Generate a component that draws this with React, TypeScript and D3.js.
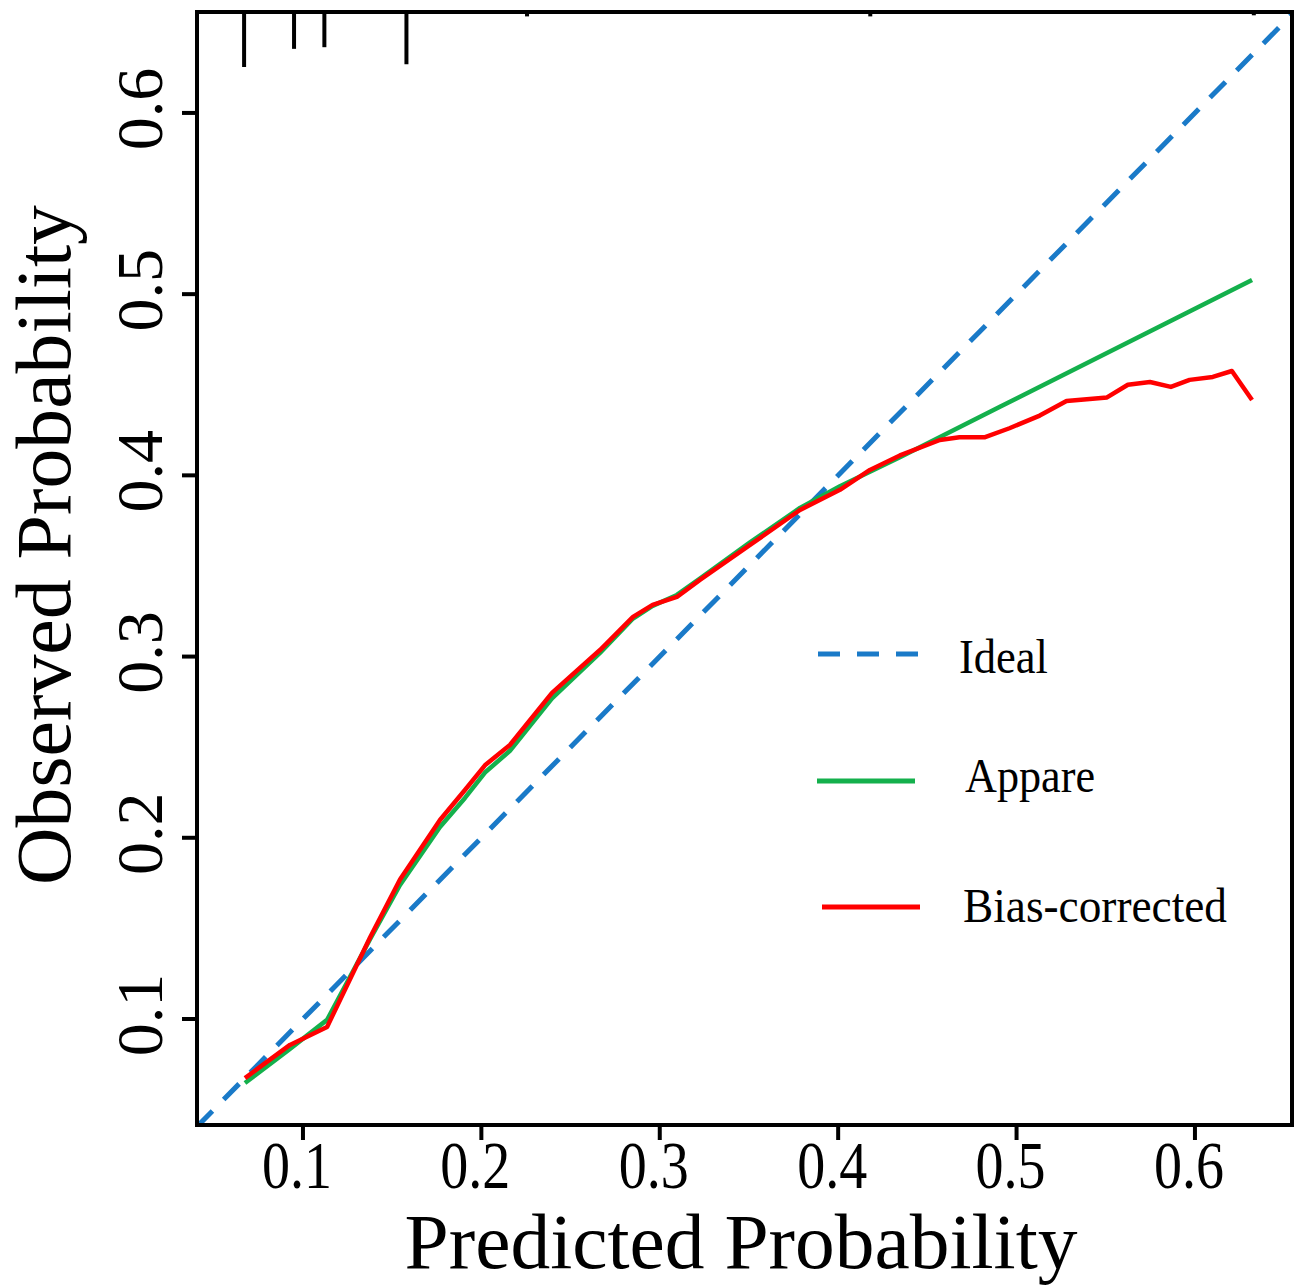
import React, { useEffect, useRef } from "react";
import * as d3 from "d3";

const xTicks = [0.1, 0.2, 0.3, 0.4, 0.5, 0.6];
const yTicks = [0.1, 0.2, 0.3, 0.4, 0.5, 0.6];

const apparentX = [0.0675, 0.0927, 0.1135, 0.1376, 0.1544, 0.1768, 0.1908, 0.202, 0.216, 0.2396, 0.2665, 0.285, 0.296, 0.3096, 0.3225, 0.3506, 0.3786, 0.401, 0.4346, 0.4907, 0.632];
const apparentY = [0.0647, 0.0835, 0.0995, 0.144, 0.174, 0.206, 0.222, 0.236, 0.248, 0.277, 0.302, 0.321, 0.328, 0.334, 0.343, 0.363, 0.382, 0.394, 0.41, 0.4378, 0.5078];

const biasX = [0.0675, 0.0927, 0.1135, 0.1376, 0.1544, 0.1768, 0.1908, 0.202, 0.216, 0.2396, 0.2665, 0.285, 0.296, 0.3096, 0.3225, 0.3506, 0.3786, 0.401, 0.4178, 0.4346, 0.457, 0.468, 0.482, 0.496, 0.513, 0.528, 0.5507, 0.5624, 0.5748, 0.5865, 0.597, 0.61, 0.6207, 0.632];
const biasY = [0.0674, 0.0857, 0.0956, 0.145, 0.177, 0.2098, 0.2264, 0.24, 0.2512, 0.28, 0.3036, 0.3219, 0.3285, 0.3329, 0.3423, 0.3616, 0.3809, 0.392, 0.403, 0.411, 0.4195, 0.421, 0.421, 0.426, 0.433, 0.441, 0.443, 0.45, 0.4515, 0.4488, 0.4527, 0.4543, 0.4576, 0.4416];

const rugValues = [0.067, 0.095, 0.112, 0.158, 0.2256, 0.418, 0.633];
const rugFreq = [1.0, 0.67, 0.64, 0.95, 0.08, 0.08, 0.06];

const legendLabels = ["Ideal", "Appare", "Bias-corrected"];

export default function App() {
  const ref = useRef<SVGSVGElement>(null);
  useEffect(() => {
    const svg = d3.select(ref.current);
    svg.selectAll("*").remove();
    const L = 197, R = 1292, T = 12, B = 1125;
    const x = d3.scaleLinear().domain([0.0406, 0.6544]).range([L, R]);
    const y = d3.scaleLinear().domain([0.0415, 0.6557]).range([B, T]);
    const font = "'Liberation Serif', 'Times New Roman', serif";

    svg.append("defs").append("clipPath").attr("id", "clip")
      .append("rect").attr("x", L).attr("y", T).attr("width", R - L).attr("height", B - T);

    const g = svg.append("g").attr("clip-path", "url(#clip)");
    const line = d3.line<[number, number]>().x(d => x(d[0])).y(d => y(d[1]));

    // ideal
    g.append("path")
      .attr("d", line([[0.0406, 0.0406], [0.66, 0.66]]))
      .attr("fill", "none").attr("stroke", "#1a7ac8").attr("stroke-width", 5)
      .attr("stroke-dasharray", "22,16");

    const app: [number, number][] = apparentX.map((v, i) => [v, apparentY[i]]);
    const bias: [number, number][] = biasX.map((v, i) => [v, biasY[i]]);
    g.append("path").attr("d", line(app)).attr("fill", "none").attr("stroke", "#14b04c")
      .attr("stroke-width", 4.5).attr("stroke-linejoin", "round");
    g.append("path").attr("d", line(bias)).attr("fill", "none").attr("stroke", "#ff0000")
      .attr("stroke-width", 4.5).attr("stroke-linejoin", "round");

    // rug
    const rugH = d3.scaleLinear().domain([0, 1]).range([0, 55]);
    rugValues.forEach((v, i) => {
      svg.append("line").attr("x1", x(v)).attr("x2", x(v)).attr("y1", T)
        .attr("y2", T + rugH(rugFreq[i])).attr("stroke", "#000").attr("stroke-width", 4);
    });

    // frame
    svg.append("rect").attr("x", L).attr("y", T).attr("width", R - L).attr("height", B - T)
      .attr("fill", "none").attr("stroke", "#000").attr("stroke-width", 4);

    // x ticks
    xTicks.forEach(t => {
      svg.append("line").attr("x1", x(t)).attr("x2", x(t)).attr("y1", B).attr("y2", B + 15)
        .attr("stroke", "#000").attr("stroke-width", 4);
      svg.append("text").attr("x", x(t) - 6).attr("y", 1188).attr("text-anchor", "middle")
        .attr("font-family", font).attr("font-size", 67)
        .attr("textLength", 70).attr("lengthAdjust", "spacingAndGlyphs")
        .text(d3.format(".1f")(t));
    });
    // y ticks
    yTicks.forEach(t => {
      svg.append("line").attr("x1", L - 15).attr("x2", L).attr("y1", y(t)).attr("y2", y(t))
        .attr("stroke", "#000").attr("stroke-width", 4);
      svg.append("text").attr("transform", `translate(162,${y(t) - 4}) rotate(-90)`)
        .attr("text-anchor", "middle").attr("font-family", font).attr("font-size", 66)
        .text(d3.format(".1f")(t));
    });

    // titles
    svg.append("text").attr("x", 741).attr("y", 1268).attr("text-anchor", "middle")
      .attr("font-family", font).attr("font-size", 78)
      .attr("textLength", 673).attr("lengthAdjust", "spacingAndGlyphs")
      .text("Predicted Probability");
    svg.append("text").attr("transform", `translate(70,545) rotate(-90)`)
      .attr("text-anchor", "middle").attr("font-family", font).attr("font-size", 79)
      .attr("textLength", 680).attr("lengthAdjust", "spacingAndGlyphs")
      .text("Observed Probability");

    // legend
    const legend = [
      { label: legendLabels[0], color: "#1a7ac8", dash: "22,17", x1: 818, x2: 918, ly: 654, tx: 959, ty: 673, tl: 89 },
      { label: legendLabels[1], color: "#14b04c", dash: null, x1: 817, x2: 915, ly: 781, tx: 965, ty: 792, tl: 130 },
      { label: legendLabels[2], color: "#ff0000", dash: null, x1: 822, x2: 920, ly: 907, tx: 963, ty: 922, tl: 264 },
    ];
    legend.forEach(d => {
      const ln = svg.append("line").attr("x1", d.x1).attr("x2", d.x2).attr("y1", d.ly).attr("y2", d.ly)
        .attr("stroke", d.color).attr("stroke-width", 5);
      if (d.dash) ln.attr("stroke-dasharray", d.dash);
      svg.append("text").attr("x", d.tx).attr("y", d.ty).attr("font-family", font)
        .attr("font-size", 49).attr("textLength", d.tl).attr("lengthAdjust", "spacingAndGlyphs")
        .text(d.label);
    });
  }, []);
  return (
    <svg ref={ref} width={1295} height={1286}
      style={{ position: "absolute", left: 0, top: 0, background: "#fff" }} />
  );
}
